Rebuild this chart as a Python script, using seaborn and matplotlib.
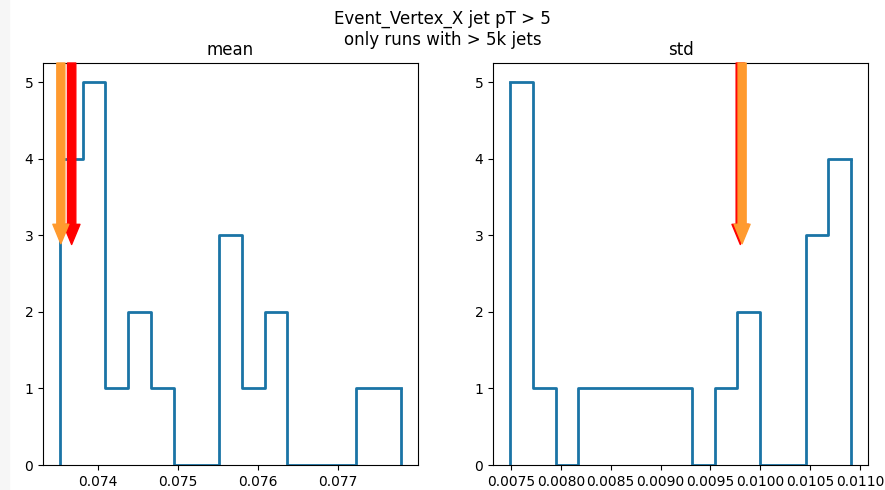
import numpy as np
import pandas as pd
import matplotlib
matplotlib.use("Agg")
import matplotlib.pyplot as plt
from matplotlib.patches import Rectangle
import seaborn as sns

# ---- data ----
mean_counts = [4, 5, 1, 2, 1, 0, 0, 3, 1, 2, 0, 0, 0, 1, 1]
mean_range = (0.073525, 0.077788)
std_counts = [5, 1, 0, 1, 1, 1, 1, 1, 0, 1, 2, 0, 0, 3, 4]
std_range = (0.00749, 0.01091)

mean_ref_red = 0.07367
mean_ref_orange = 0.073535
std_ref_red = 0.009800
std_ref_orange = 0.009818
arrow_tip = 2.88

suptitle = "Event_Vertex_X jet pT > 5\nonly runs with > 5k jets"
titles = ["mean", "std"]

line_color = "#1a74a6"

fig = plt.figure(figsize=(8.85, 4.9), dpi=100)
fig.patches.append(Rectangle((0, 0), 9 / 885, 1, transform=fig.transFigure,
                             color="#f6f6f6", zorder=-1))
ax1 = fig.add_axes([43 / 885, 25 / 490, 375 / 885, 402 / 490])
ax2 = fig.add_axes([493 / 885, 25 / 490, 375 / 885, 402 / 490])


def draw_hist(ax, counts, rng, reds, title):
    counts = np.asarray(counts, dtype=float)
    edges = np.linspace(rng[0], rng[1], len(counts) + 1)
    centers = 0.5 * (edges[:-1] + edges[1:])
    df = pd.DataFrame({"value": centers, "count": counts})
    sns.histplot(data=df, x="value", weights="count", bins=list(edges),
                 element="step", fill=False, color=line_color, linewidth=2,
                 ax=ax)
    ax.vlines([edges[0], edges[-1]], 0, [counts[0], counts[-1]],
              color=line_color, linewidth=2)
    top = counts.max() * 1.05
    ax.set_ylim(0, top)
    ax.set_ylabel("")
    ax.set_xlabel("")
    ax.set_title(title, fontsize=12)
    red_x, orange_x = reds
    ax.annotate("", xy=(red_x, arrow_tip), xytext=(red_x, top),
                arrowprops=dict(width=6.0, headwidth=12, headlength=14.5,
                                color="#ff0000", shrink=0))
    ax.annotate("", xy=(orange_x, arrow_tip + 0.01), xytext=(orange_x, top),
                arrowprops=dict(width=5.8, headwidth=11.5, headlength=14,
                                color="#ff9a2e", shrink=0))


draw_hist(ax1, mean_counts, mean_range, (mean_ref_red, mean_ref_orange), titles[0])
draw_hist(ax2, std_counts, std_range, (std_ref_red, std_ref_orange), titles[1])

ax1.set_xticks([0.074, 0.075, 0.076, 0.077])
ax2.set_xticks(np.arange(0.0075, 0.01101, 0.0005))
for ax in (ax1, ax2):
    ax.tick_params(labelsize=10)

fig.suptitle(suptitle, fontsize=12, y=0.98)
fig.savefig("out.png", dpi=100)
